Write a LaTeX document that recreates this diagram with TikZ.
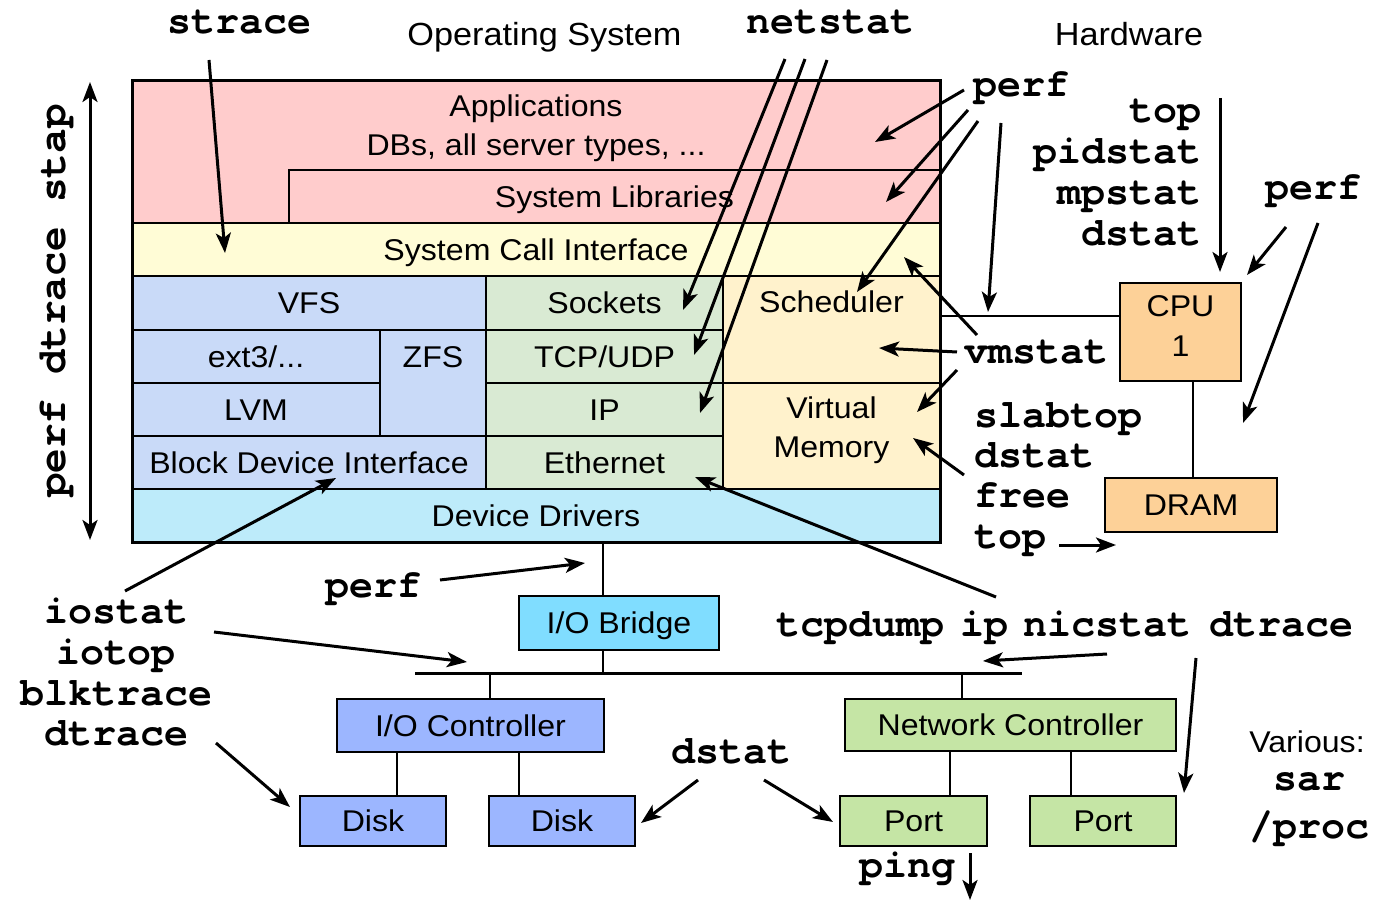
\documentclass[tikz,border=0pt]{standalone}
\usepackage{fontspec}
\setmainfont{Liberation Sans}[FakeStretch=1.07]
\newfontfamily\monofam{texgyrecursor-bold.otf}
\usetikzlibrary{arrows.meta}
\definecolor{pinkc}{HTML}{FFCCCC}
\definecolor{yelc}{HTML}{FFFCD6}
\definecolor{bluec}{HTML}{C9DAF8}
\definecolor{greenc}{HTML}{D9EAD3}
\definecolor{schedc}{HTML}{FFF2CC}
\definecolor{ddc}{HTML}{BDEBFA}
\definecolor{iobc}{HTML}{80DDFF}
\definecolor{hwblue}{HTML}{9CB6FF}
\definecolor{hwgreen}{HTML}{C5E5A5}
\definecolor{orangec}{HTML}{FDD198}
\begin{document}
\begin{tikzpicture}[x=1pt,y=-1pt,
  sans/.style={font=\fontsize{30}{36}\selectfont},
  box/.style={draw=black, line width=2.5pt, inner sep=0pt, outer sep=0pt, text height=21.5pt, text depth=0pt, sans},
  lbl/.style={inner sep=0pt, anchor=base, sans},
  tool/.style={inner sep=0pt, anchor=base, font=\monofam\fontsize{40}{44}\selectfont},
  arr/.style={line width=3pt, -{Stealth[length=20pt,width=15pt,inset=5pt]}},
  conn/.style={line width=2.5pt}]
\useasboundingbox (0,0) rectangle (1374,901);

% ---- OS stack
\node[box, fill=pinkc, minimum width=808pt, minimum height=142pt] (apps) at (536,152) {};
\node[box, fill=pinkc, minimum width=651pt, minimum height=53pt] (syslib) at (614.5,196.5) {System Libraries};
\node[box, fill=yelc, minimum width=808pt, minimum height=53pt] (sci) at (536,249.5) {System Call Interface};
\node[box, fill=bluec, minimum width=354pt, minimum height=54pt] (vfs) at (309,303) {VFS};
\node[box, fill=bluec, minimum width=248pt, minimum height=53pt] (ext) at (256,356.5) {ext3/...};
\node[box, fill=bluec, minimum width=106pt, minimum height=106pt] (zfs) at (433,383) {};
\node[box, fill=bluec, minimum width=248pt, minimum height=53pt] (lvm) at (256,409.5) {LVM};
\node[box, fill=bluec, minimum width=354pt, minimum height=53pt] (bdi) at (309,462.5) {Block Device Interface};
\node[box, fill=greenc, minimum width=237pt, minimum height=54pt] (sock) at (604.5,303) {Sockets};
\node[box, fill=greenc, minimum width=237pt, minimum height=53pt] (tcp) at (604.5,356.5) {TCP/UDP};
\node[box, fill=greenc, minimum width=237pt, minimum height=53pt] (ip) at (604.5,409.5) {IP};
\node[box, fill=greenc, minimum width=237pt, minimum height=53pt] (eth) at (604.5,462.5) {Ethernet};
\node[box, fill=schedc, minimum width=217pt, minimum height=107pt] (sched) at (831.5,329.5) {};
\node[box, fill=schedc, minimum width=217pt, minimum height=106pt] (vm) at (831.5,436) {};
\node[box, fill=ddc, minimum width=808pt, minimum height=53pt] (dd) at (536,515.5) {Device Drivers};
\draw[line width=3pt] (apps.north west) rectangle (dd.south east);

\node[lbl] (tapps) at (536,117) {Applications};
\node[lbl] (tdbs) at (536,156) {DBs, all server types, ...};
\node[lbl] (tzfs) at (433,367) {ZFS};
\node[lbl] (tsched) at (831.5,313) {Scheduler};
\node[lbl] (tvirt) at (831.5,418) {Virtual};
\node[lbl] (tmem) at (831.5,457) {Memory};

% ---- titles
\node[lbl, font=\fontsize{32}{38}\selectfont] (tos) at (544.5,46) {Operating System};
\node[lbl, font=\fontsize{32}{38}\selectfont] (thw) at (1129,46) {Hardware};

% ---- hardware
\node[box, fill=orangec, minimum width=121pt, minimum height=98pt] (cpu) at (1180.5,332) {};
\node[lbl] (tcpu) at (1180.5,317) {CPU};
\node[lbl] (tcpu1) at (1180.5,357) {1};
\node[box, fill=orangec, minimum width=172pt, minimum height=54pt] (dram) at (1191,505) {DRAM};
\node[box, fill=iobc, minimum width=200pt, minimum height=54pt] (iob) at (619,623) {I/O Bridge};
\node[box, fill=hwblue, minimum width=267pt, minimum height=53pt] (ioc) at (470.5,725.5) {I/O Controller};
\node[box, fill=hwblue, minimum width=146pt, minimum height=50pt] (disk1) at (373,821) {Disk};
\node[box, fill=hwblue, minimum width=146pt, minimum height=50pt] (disk2) at (562,821) {Disk};
\node[box, fill=hwgreen, minimum width=331pt, minimum height=52pt] (nc) at (1010.5,725) {Network Controller};
\node[box, fill=hwgreen, minimum width=147pt, minimum height=50pt] (port1) at (913.5,821) {Port};
\node[box, fill=hwgreen, minimum width=146pt, minimum height=50pt] (port2) at (1103,821) {Port};

% ---- connectors
\coordinate (cpuy) at (0,316);
\coordinate (dramx) at (1193,0);
\coordinate (bx) at (603,0);
\coordinate (busL) at (415,673);
\coordinate (busR) at (1022,673);
\coordinate (iocx) at (490,0);
\coordinate (ncx) at (962,0);
\coordinate (d1x) at (397,0);
\coordinate (d2x) at (519,0);
\coordinate (p1x) at (950,0);
\coordinate (p2x) at (1071,0);
\draw[conn] (sched.east |- cpuy) -- (cpu.west |- cpuy);
\draw[conn] (cpu.south -| dramx) -- (dram.north -| dramx);
\draw[conn] (dd.south -| bx) -- (iob.north -| bx);
\draw[conn] (iob.south -| bx) -- (bx |- busL);
\draw[line width=3pt] (busL) -- (busR);
\draw[conn] (iocx |- busL) -- (ioc.north -| iocx);
\draw[conn] (ncx |- busL) -- (nc.north -| ncx);
\draw[conn] (ioc.south -| d1x) -- (disk1.north -| d1x);
\draw[conn] (ioc.south -| d2x) -- (disk2.north -| d2x);
\draw[conn] (nc.south -| p1x) -- (port1.north -| p1x);
\draw[conn] (nc.south -| p2x) -- (port2.north -| p2x);

% ---- tool labels
\node[tool] (strace) at (239,34) {strace};
\node[tool] (netstat) at (830.5,34) {netstat};
\node[tool] (perfA) at (1021,97) {perf};
\node[tool, anchor=base east] (topA) at (1202,123) {top};
\node[tool, anchor=base east] (pidstat) at (1202,164) {pidstat};
\node[tool, anchor=base east] (mpstat) at (1202,205) {mpstat};
\node[tool, anchor=base east] (dstatA) at (1202,246) {dstat};
\node[tool] (perfB) at (1313.5,200) {perf};
\node[tool] (vmstat) at (1036.5,363) {vmstat};
\node[tool, anchor=base west] (slabtop) at (974,427) {slabtop};
\node[tool, anchor=base west] (dstatB) at (974,467) {dstat};
\node[tool, anchor=base west] (free) at (974,507) {free};
\node[tool, anchor=base west] (topB) at (974,548) {top};
\node[tool] (perfC) at (373.5,597) {perf};
\node[tool] (iostat) at (116,623) {iostat};
\node[tool] (iotop) at (116,664) {iotop};
\node[tool] (blktrace) at (116,705) {blktrace};
\node[tool] (dtraceA) at (116,745) {dtrace};
\node[tool] (tcpdump) at (860.5,636) {tcpdump};
\node[tool] (ipt) at (984.5,636) {ip};
\node[tool] (nicstat) at (1107,636) {nicstat};
\node[tool] (dtraceB) at (1281,636) {dtrace};
\node[tool] (dstatC) at (731,763) {dstat};
\node[tool] (ping) at (907.5,877) {ping};
\node[lbl] (various) at (1307,752) {Various:};
\node[tool] (sar) at (1309,790) {sar};
\node[tool] (proc) at (1309,838) {/proc};
\node[tool, rotate=90, font=\monofam\fontsize{41}{44}\selectfont] (vtools) at (65,301) {perf dtrace stap};

% ---- arrows
\coordinate (va) at (90,82); \coordinate (vb) at (90,540);
\draw[line width=3pt, {Stealth[length=20pt,width=15pt,inset=5pt]}-{Stealth[length=20pt,width=15pt,inset=5pt]}] (va) -- (vb);

\coordinate (a1s) at (209,60);   \coordinate (a1e) at (225,253);
\coordinate (n1s) at (785,59);   \coordinate (n1e) at (683,310);
\coordinate (n2s) at (805,59);   \coordinate (n2e) at (694,355);
\coordinate (n3s) at (827,60);   \coordinate (n3e) at (700,413);
\coordinate (p1s) at (964,90);   \coordinate (p1e) at (875,142);
\coordinate (p2s) at (968,110);  \coordinate (p2e) at (886,202);
\coordinate (p3s) at (978,121);  \coordinate (p3e) at (857,292);
\coordinate (p4s) at (1001,123); \coordinate (p4e) at (988,312);
\coordinate (t1s) at (1220,98);  \coordinate (t1e) at (1220,272);
\coordinate (q1s) at (1286,227); \coordinate (q1e) at (1247,275);
\coordinate (q2s) at (1318,223); \coordinate (q2e) at (1243,423);
\coordinate (v1s) at (977,335);  \coordinate (v1e) at (904,257);
\coordinate (v2s) at (957,352);  \coordinate (v2e) at (879,348);
\coordinate (v3s) at (957,370);  \coordinate (v3e) at (917,412);
\coordinate (m1s) at (964,475);  \coordinate (m1e) at (913,438);
\coordinate (m2s) at (1059,545); \coordinate (m2e) at (1116,545);
\coordinate (e1s) at (996,597);  \coordinate (e1e) at (695,477);
\coordinate (e2s) at (1107,654); \coordinate (e2e) at (983,661);
\coordinate (e3s) at (1196,658); \coordinate (e3e) at (1184,793);
\coordinate (g1s) at (970,853);  \coordinate (g1e) at (970,900);
\coordinate (i1s) at (125,591);  \coordinate (i1e) at (336,478);
\coordinate (i2s) at (214,632);  \coordinate (i2e) at (467,662);
\coordinate (i3s) at (216,743);  \coordinate (i3e) at (290,807);
\coordinate (c1s) at (440,580);  \coordinate (c1e) at (585,563);
\coordinate (d1s) at (698,780);  \coordinate (d1e) at (641,823);
\coordinate (d2s) at (764,780);  \coordinate (d2e) at (833,822);

\foreach \a in {a1,n1,n2,n3,p1,p2,p3,p4,t1,q1,q2,v1,v2,v3,m1,m2,e1,e2,e3,g1,i1,i2,i3,c1,d1,d2}
  \draw[arr] (\a s) -- (\a e);
\end{tikzpicture}
\end{document}
